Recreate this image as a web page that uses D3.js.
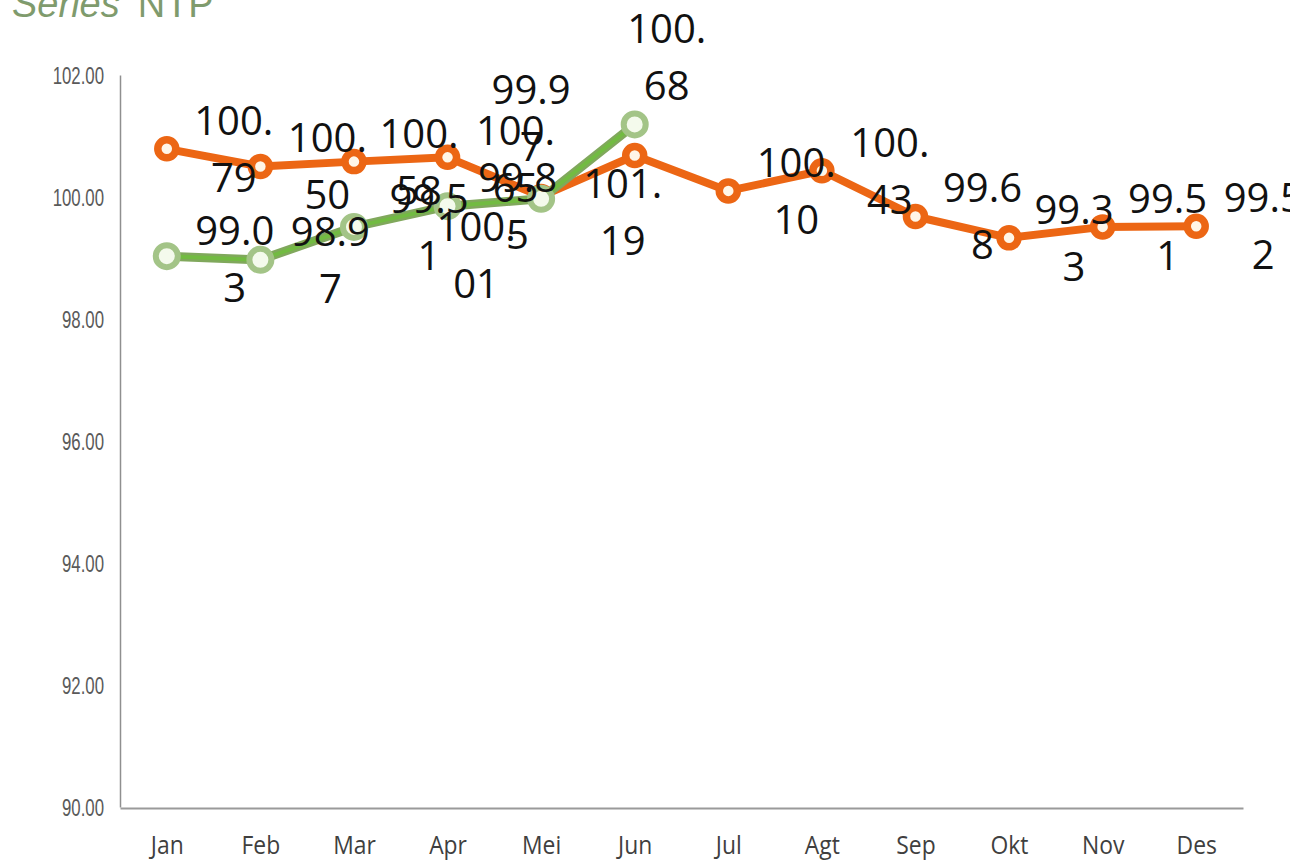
<!DOCTYPE html>
<html>
<head>
<meta charset="utf-8">
<script src="https://cdn.jsdelivr.net/npm/d3@7/dist/d3.min.js"></script>
<style>
  html, body { margin: 0; padding: 0; background: #ffffff; }
  svg { display: block; }
</style>
</head>
<body>
<svg id="chart" width="1290" height="860"></svg>
<script>
// Monthly NTP index, two years
const months = ["Jan", "Feb", "Mar", "Apr", "Mei", "Jun", "Jul", "Agt", "Sep", "Okt", "Nov", "Des"];
const seriesPrev = [100.79, 100.50, 100.58, 100.65, 100.01, 100.68, 100.10, 100.43, 99.68, 99.33, 99.51, 99.52];
const seriesCurr = [99.03, 98.97, 99.51, 99.85, 99.97, 101.19];
const yTicks = [90, 92, 94, 96, 98, 100, 102];
const titleItalic = "Series";
const titleRest = "NTP";

// label block placement relative to each marker (px)
const prevLabelShift = [[67, 0], [67, 0], [65, 0], [68, 2], [-65, 59], [32, -98],
                        [68, 0], [68, 0], [67, 0], [65, 0], [65, 0], [67, 0]];
const currLabelShift = [[68, 3], [70, 0], [75, 0], [70, 0], [-10, -81], [-12, 88]];

const svg = d3.select("#chart");

const x = d3.scalePoint().domain(months).range([120, 1243]).padding(0.5);
const y = d3.scaleLinear().domain([90, 102]).range([807, 75]);

// title (top partly outside the frame)
const title = svg.append("text")
  .attr("x", 12).attr("y", 17)
  .attr("font-family", "Liberation Sans, Arial, sans-serif")
  .attr("font-size", 38)
  .attr("fill", "#7f9b6d");
title.append("tspan").attr("font-style", "italic").text(titleItalic);
title.append("tspan").attr("dx", 18).text(titleRest);

// y axis
const yScaleX = 0.7;
const yAxis = svg.append("g")
  .attr("transform", "translate(120,0)")
  .call(d3.axisLeft(y).tickValues(yTicks).tickFormat(d3.format(".2f")).tickSize(0).tickSizeOuter(0));
yAxis.select(".domain").attr("stroke", "#8f8f8f").attr("stroke-width", 1.5);
yAxis.selectAll(".tick text")
  .attr("font-family", "Liberation Sans, Arial, sans-serif")
  .attr("font-size", 24)
  .attr("fill", "#5a5a5a")
  .attr("x", -16 / yScaleX)
  .attr("dy", "0.34em")
  .attr("transform", `scale(${yScaleX},1)`);

// x axis
const xScaleX = 0.88;
const xAxis = svg.append("g")
  .attr("transform", "translate(0,808)")
  .call(d3.axisBottom(x).tickSize(0).tickSizeOuter(0));
xAxis.select(".domain").attr("stroke", "#9a9a9a").attr("stroke-width", 2.2);
xAxis.selectAll(".tick text")
  .attr("font-family", "Open Sans, sans-serif")
  .attr("font-size", 26)
  .attr("fill", "#3f3f3f")
  .attr("y", 46)
  .attr("dy", 0)
  .attr("x", 0)
  .attr("transform", `scale(${xScaleX},1)`);

const line = d3.line()
  .x((d, i) => x(months[i]))
  .y(d => y(d));

// previous year: orange
svg.append("path")
  .datum(seriesPrev)
  .attr("d", line)
  .attr("fill", "none")
  .attr("stroke", "#ec6614")
  .attr("stroke-width", 8)
  .attr("stroke-linejoin", "round");

svg.append("g").selectAll("circle")
  .data(seriesPrev)
  .join("circle")
  .attr("cx", (d, i) => x(months[i]))
  .attr("cy", d => y(d))
  .attr("r", 9)
  .attr("fill", "#fff6e8")
  .attr("stroke", "#ec6614")
  .attr("stroke-width", 7.5);

// current year: green
svg.append("path")
  .datum(seriesCurr)
  .attr("d", line)
  .attr("fill", "none")
  .attr("stroke", "#80a85c")
  .attr("stroke-width", 9)
  .attr("stroke-linejoin", "round");
svg.append("path")
  .datum(seriesCurr)
  .attr("d", line)
  .attr("fill", "none")
  .attr("stroke", "#72bb42")
  .attr("stroke-width", 4)
  .attr("stroke-linejoin", "round");

svg.append("g").selectAll("circle")
  .data(seriesCurr)
  .join("circle")
  .attr("cx", (d, i) => x(months[i]))
  .attr("cy", d => y(d))
  .attr("r", 11)
  .attr("fill", "#f4faec")
  .attr("stroke", "#a3c487")
  .attr("stroke-width", 6);

// value labels, wrapped every four characters
function wrapValue(v) {
  const s = v.toFixed(2);
  const parts = [];
  for (let k = 0; k < s.length; k += 4) parts.push(s.slice(k, k + 4));
  return parts;
}

function drawLabels(values, shifts) {
  const lineGap = 57;
  values.forEach((v, i) => {
    const cx = x(months[i]) + shifts[i][0];
    const cy = y(v) + shifts[i][1];
    const parts = wrapValue(v);
    const top = cy - (parts.length - 1) * lineGap / 2;
    parts.forEach((p, j) => {
      svg.append("text")
        .attr("x", cx)
        .attr("y", top + j * lineGap)
        .attr("dy", "0.36em")
        .attr("text-anchor", "middle")
        .attr("font-family", "Open Sans, sans-serif")
        .attr("font-size", 40)
        .attr("fill", "#111111")
        .text(p);
    });
  });
}

drawLabels(seriesPrev, prevLabelShift);
drawLabels(seriesCurr, currLabelShift);
</script>
</body>
</html>
